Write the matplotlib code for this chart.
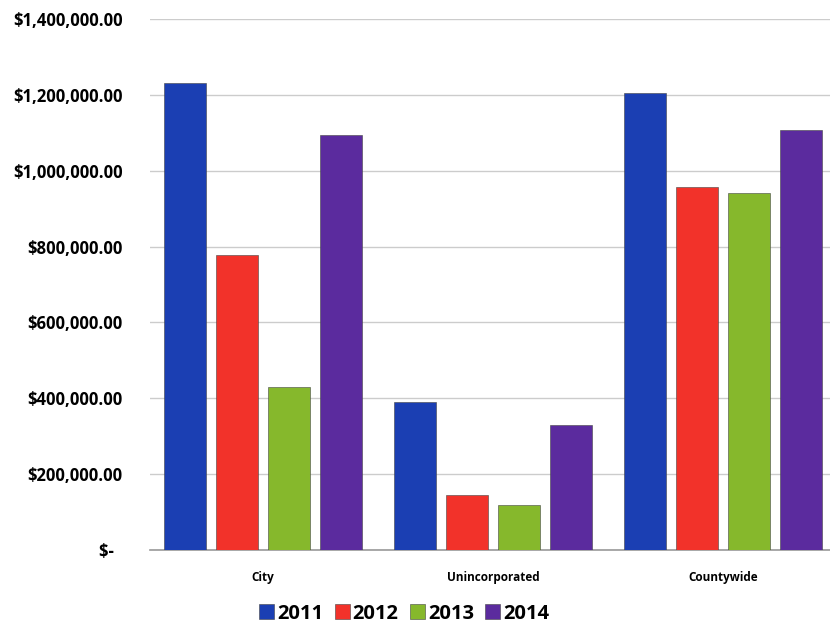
import matplotlib.pyplot as plt
import numpy as np
from matplotlib.ticker import FuncFormatter

# amounts per area, by year
areas = ["City", "Unincorporated", "Countywide"]
years = ["2011", "2012", "2013", "2014"]
values_2011 = [1230000, 390000, 1204000]
values_2012 = [777000, 145000, 956000]
values_2013 = [430000, 119000, 940000]
values_2014 = [1093000, 330000, 1106000]

series = [values_2011, values_2012, values_2013, values_2014]
colors = ["#1b3fb3", "#f2322a", "#86b82c", "#5b2b9e"]

plt.rcParams["font.family"] = ["Open Sans", "DejaVu Sans"]
plt.rcParams["font.weight"] = "bold"

fig = plt.figure(figsize=(8.3, 6.28), dpi=100)
ax = fig.add_axes([0.181, 0.124, 0.819, 0.846])

x = np.arange(len(areas))
step = 0.226
width = 0.183
for i, (vals, col, yr) in enumerate(zip(series, colors, years)):
    ax.bar(x + (i - 1.5) * step, vals, width, color=col, label=yr,
           edgecolor="#444444", linewidth=0.4, zorder=3)

ax.set_ylim(0, 1400000)
ax.set_xlim(-0.49, 2.465)
ax.set_yticks(np.arange(0, 1400001, 200000))


def money(v, pos):
    if v == 0:
        return "$-  "
    return "${:,.2f}".format(v)


ax.yaxis.set_major_formatter(FuncFormatter(money))
ax.set_xticks(x)
ax.set_xticklabels(areas, fontsize=8.5, fontweight="bold")
ax.tick_params(axis="x", length=0, pad=15)
ax.tick_params(axis="y", length=0, pad=20, labelsize=12)
for lbl in ax.get_yticklabels():
    lbl.set_fontweight("bold")

ax.grid(axis="y", color="#cccccc", linewidth=1.0, zorder=0)
for s in ["top", "right", "left"]:
    ax.spines[s].set_visible(False)
ax.spines["bottom"].set_color("#999999")
ax.spines["bottom"].set_linewidth(1.2)

leg = fig.legend(loc="lower center", bbox_to_anchor=(0.487, -0.022), ncol=4,
                 frameon=False, prop={"size": 14.5, "weight": "bold"},
                 handlelength=0.75, handleheight=0.75, handletextpad=0.15,
                 columnspacing=0.55)

fig.savefig("out.png", dpi=100)
